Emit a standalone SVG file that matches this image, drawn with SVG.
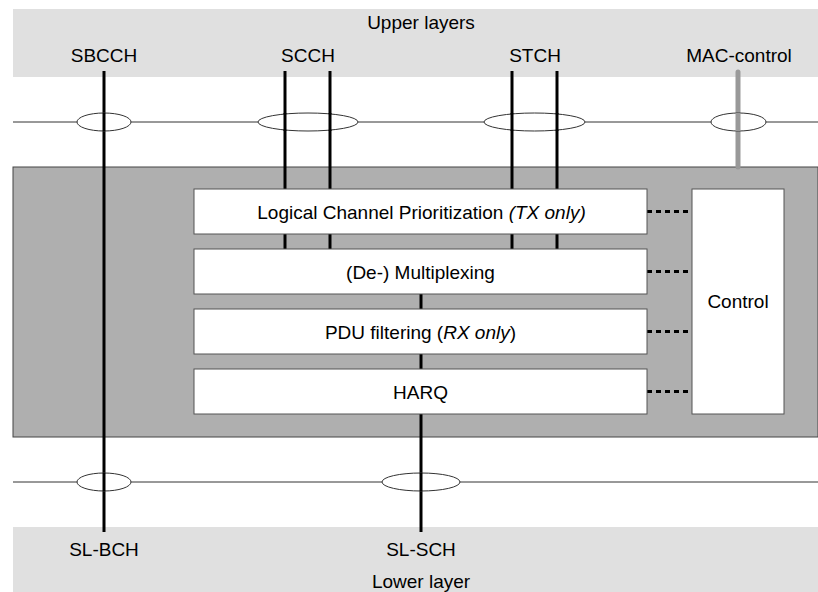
<svg xmlns="http://www.w3.org/2000/svg" width="818" height="592" viewBox="0 0 818 592">
<style>
.t{font-family:"Liberation Sans",Arial,sans-serif;font-size:19px;fill:#000;text-anchor:middle}
.band{fill:#e0e0e0}
.box{fill:#fff;stroke:#555;stroke-width:1}
.ch{stroke:#000;stroke-width:3;fill:none}
.bus{stroke:#333;stroke-width:1;fill:none}
.ell{fill:#fff;stroke:#333;stroke-width:1}
.dash{stroke:#000;stroke-width:3;stroke-dasharray:5,4;fill:none}
</style>
<g id="upper"><rect class="band" x="13" y="9" width="805" height="68"/><text class="t" x="421" y="28.5">Upper layers</text></g>
<g id="lower"><rect class="band" x="13" y="527" width="805" height="65"/><text class="t" x="421" y="588">Lower layer</text></g>
<g id="mac"><rect x="13" y="167" width="805" height="270" fill="#afafaf" stroke="#444" stroke-width="1"/></g>
<g id="connectors">
<line class="bus" x1="13" y1="122" x2="818" y2="122"/>
<line class="bus" x1="13" y1="482" x2="818" y2="482"/>
<line class="ch" x1="104" y1="71" x2="104" y2="532"/>
<line class="ch" x1="285" y1="71" x2="285" y2="249"/>
<line class="ch" x1="330" y1="71" x2="330" y2="249"/>
<line class="ch" x1="512" y1="71" x2="512" y2="249"/>
<line class="ch" x1="557" y1="71" x2="557" y2="249"/>
<line class="ch" x1="421" y1="294" x2="421" y2="532"/>
<line x1="738" y1="72" x2="738" y2="167" stroke="#999" stroke-width="5" stroke-linecap="round"/>
<line class="dash" x1="647" y1="211.5" x2="692" y2="211.5"/>
<line class="dash" x1="647" y1="271.5" x2="692" y2="271.5"/>
<line class="dash" x1="647" y1="331.5" x2="692" y2="331.5"/>
<line class="dash" x1="647" y1="391.5" x2="692" y2="391.5"/>
<ellipse class="ell" cx="104" cy="122" rx="27" ry="9"/>
<ellipse class="ell" cx="308" cy="122" rx="50" ry="9"/>
<ellipse class="ell" cx="534.5" cy="122" rx="50.5" ry="9"/>
<ellipse class="ell" cx="738.5" cy="122" rx="27.5" ry="9"/>
<ellipse class="ell" cx="104" cy="482" rx="27" ry="9"/>
<ellipse class="ell" cx="421" cy="482" rx="39" ry="9"/>
<line class="ch" x1="104" y1="113" x2="104" y2="131"/>
<line class="ch" x1="285" y1="113" x2="285" y2="131"/>
<line class="ch" x1="330" y1="113" x2="330" y2="131"/>
<line class="ch" x1="512" y1="113" x2="512" y2="131"/>
<line class="ch" x1="557" y1="113" x2="557" y2="131"/>
<line x1="738" y1="113" x2="738" y2="131" stroke="#999" stroke-width="5"/>
<line class="ch" x1="104" y1="473" x2="104" y2="491"/>
<line class="ch" x1="421" y1="473" x2="421" y2="491"/>
</g>
<g id="labels">
<text class="t" x="104" y="62">SBCCH</text>
<text class="t" x="308" y="62">SCCH</text>
<text class="t" x="535" y="62">STCH</text>
<text class="t" x="739" y="62">MAC-control</text>
<text class="t" x="104" y="556">SL-BCH</text>
<text class="t" x="421" y="556">SL-SCH</text>
</g>
<g id="lcp"><rect class="box" x="194" y="189" width="453" height="45"/><text class="t" x="421.5" y="218.5">Logical Channel Prioritization <tspan font-style="italic">(TX only)</tspan></text></g>
<g id="mux"><rect class="box" x="194" y="249" width="453" height="45"/><text class="t" x="420.5" y="278.5">(De-) Multiplexing</text></g>
<g id="pdu"><rect class="box" x="194" y="309" width="453" height="45"/><text class="t" x="420.5" y="338.5">PDU filtering (<tspan font-style="italic">RX only</tspan>)</text></g>
<g id="harq"><rect class="box" x="194" y="369" width="453" height="45"/><text class="t" x="420.5" y="398.5">HARQ</text></g>
<g id="control"><rect class="box" x="692" y="189" width="92" height="225"/><text class="t" x="738" y="308">Control</text></g>
</svg>
